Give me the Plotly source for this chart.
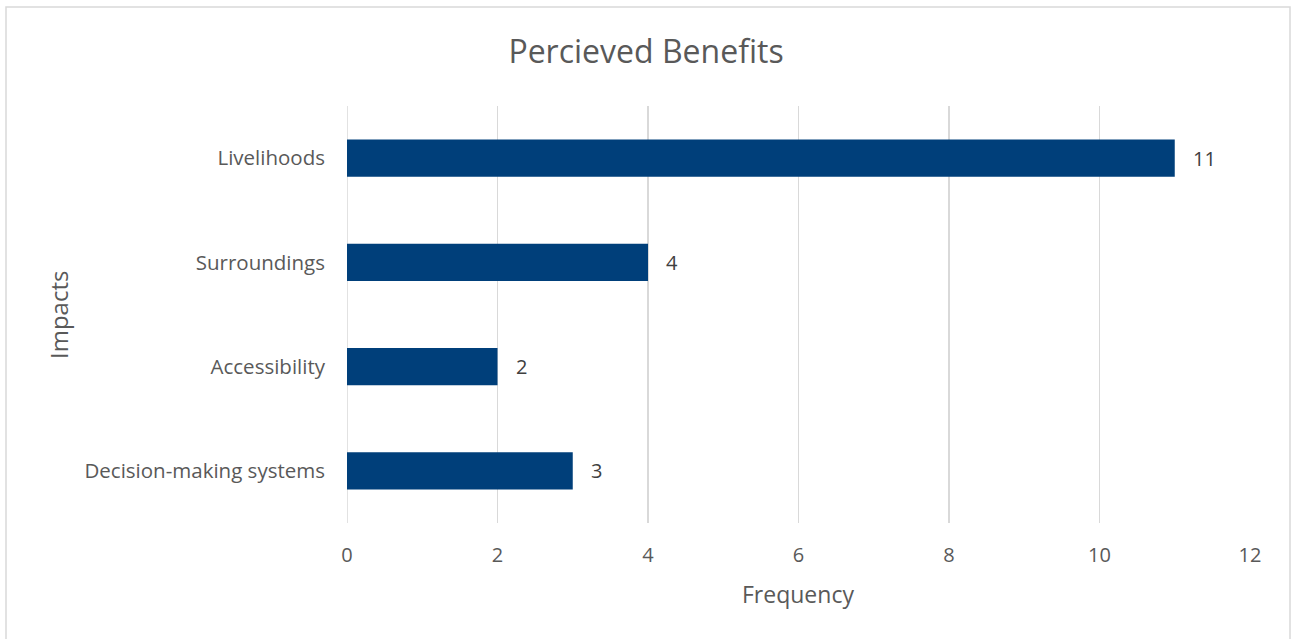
import plotly.graph_objects as go

categories = ["Decision-making systems", "Accessibility", "Surroundings", "Livelihoods"]
values = [3, 2, 4, 11]
x_ticks = [0, 2, 4, 6, 8, 10, 12]

title_text = "Percieved Benefits"
x_title = "Frequency"
y_title = "Impacts"

FONT = "Open Sans, Liberation Sans, sans-serif"
TXT = "#595959"
BAR = "#003f7a"

fig = go.Figure()
fig.add_trace(go.Bar(
    x=values, y=categories, orientation="h",
    marker=dict(color=BAR, line=dict(width=0)),
    width=0.355,
    hoverinfo="skip",
))

for c, v in zip(categories, values):
    fig.add_annotation(x=v, y=c, text=str(v), showarrow=False,
                       xanchor="left", xshift=16,
                       font=dict(family=FONT, size=20, color="#404040"))

fig.update_layout(
    width=1292, height=639,
    margin=dict(l=347, r=42, t=106, b=116),
    paper_bgcolor="white", plot_bgcolor="white",
    showlegend=False,
    font=dict(family=FONT, color=TXT, size=20),
    title=dict(text=title_text, x=0.5, xanchor="center", y=1 - 52 / 639, yanchor="middle",
               font=dict(family=FONT, size=32, color=TXT)),
)
fig.update_xaxes(range=[0, 12], tickvals=x_ticks, ticktext=[str(t) for t in x_ticks],
                 showgrid=True, gridcolor="#d9d9d9", gridwidth=1.5,
                 zeroline=False, showline=False, ticks="",
                 ticklabelstandoff=18,
                 tickfont=dict(family=FONT, size=20, color=TXT),
                 fixedrange=True)
fig.update_yaxes(categoryorder="array", categoryarray=categories,
                 showgrid=False, zeroline=False, showline=False, ticks="",
                 ticklabelstandoff=21,
                 tickfont=dict(family=FONT, size=20.5, color=TXT),
                 fixedrange=True)

# vertical line at zero as gridline
fig.add_shape(type="line", xref="x", yref="paper", x0=0, x1=0, y0=0, y1=1,
              line=dict(color="#d9d9d9", width=1.5), layer="below")

# axis titles
fig.add_annotation(text=x_title, xref="paper", yref="paper",
                   x=(798 - 347) / 903, y=(523 - 594) / 417, showarrow=False,
                   xanchor="center", yanchor="middle",
                   font=dict(family=FONT, size=23, color=TXT))
fig.add_annotation(text=y_title, xref="paper", yref="paper",
                   x=(58 - 347) / 903, y=(523 - 315) / 417, showarrow=False,
                   textangle=-90, xanchor="center", yanchor="middle",
                   font=dict(family=FONT, size=24, color=TXT))

# chart border
fig.add_shape(type="rect", xref="paper", yref="paper",
              x0=(6 - 347) / 903, x1=(1290 - 347) / 903,
              y0=(523 - 645) / 417, y1=(523 - 7) / 417,
              line=dict(color="#d9d9d9", width=1.5), fillcolor="rgba(0,0,0,0)")

fig.write_html("out.html", config={"displayModeBar": False, "staticPlot": True},
               post_script="document.body.style.margin='0';document.body.style.overflow='hidden';")
